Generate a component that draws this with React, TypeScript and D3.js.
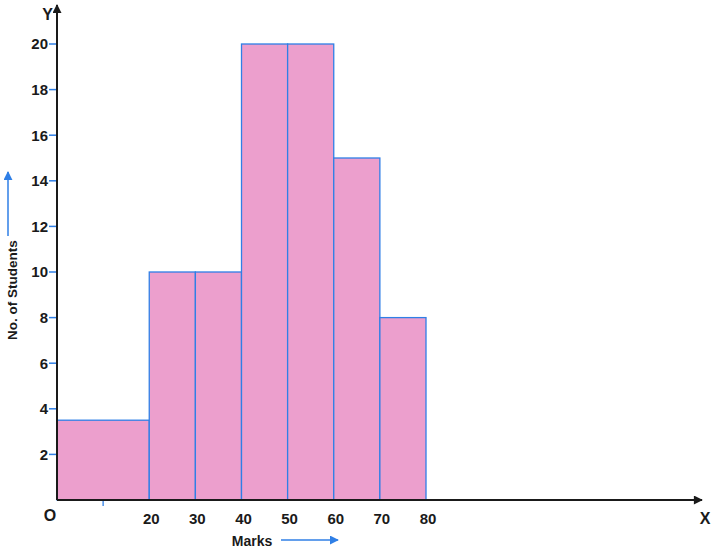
import * as d3 from "d3";

// class intervals (lower, upper) and frequencies
const binStarts = [0, 20, 30, 40, 50, 60, 70];
const binEnds = [20, 30, 40, 50, 60, 70, 80];
const frequencies = [3.5, 10, 10, 20, 20, 15, 8];
const xTickLabels = [20, 30, 40, 50, 60, 70, 80];
const xMinorTicks = [10];
const yTicks = [2, 4, 6, 8, 10, 12, 14, 16, 18, 20];

const W = 718;
const H = 552;
const FILL = "#ec9fcd";
const EDGE = "#2f7fe6";
const INK = "#1a1a1a";
const FONT = "'Liberation Sans', Arial, sans-serif";

export default function App() {
  const x = d3.scaleLinear().domain([0, 80]).range([57, 426]);
  const y = d3.scaleLinear().domain([0, 20]).range([500, 44]);
  const x0 = x(0);
  const y0 = y(0);

  return (
    <svg
      width={W}
      height={H}
      style={{ position: "absolute", left: 0, top: 0, background: "#fff" }}
      fontFamily={FONT}
    >
      <defs>
        <marker id="blk" viewBox="0 0 10 10" refX="9" refY="5" markerWidth="10" markerHeight="9" markerUnits="userSpaceOnUse" orient="auto">
          <path d="M0,0 L10,5 L0,10 Z" fill={INK} />
        </marker>
        <marker id="blu" viewBox="0 0 10 10" refX="9" refY="5" markerWidth="9" markerHeight="9" markerUnits="userSpaceOnUse" orient="auto">
          <path d="M0,0 L10,5 L0,10 Z" fill={EDGE} />
        </marker>
      </defs>

      {/* bars */}
      {frequencies.map((f, i) => (
        <rect
          key={i}
          x={x(binStarts[i])}
          y={y(f)}
          width={x(binEnds[i]) - x(binStarts[i])}
          height={y0 - y(f)}
          fill={FILL}
          stroke={EDGE}
          strokeWidth={1.3}
        />
      ))}

      {/* y ticks */}
      {yTicks.map((t) => (
        <g key={t}>
          <line x1={x0 - 8} x2={x0} y1={y(t)} y2={y(t)} stroke={EDGE} strokeWidth={1.5} />
          <text x={x0 - 9} y={y(t)} dy="0.36em" textAnchor="end" fontSize={15} fontWeight="bold" fill={INK}>
            {t}
          </text>
        </g>
      ))}

      {/* minor x tick */}
      {xMinorTicks.map((t) => (
        <line key={t} x1={x(t)} x2={x(t)} y1={y0} y2={y0 + 6} stroke={EDGE} strokeWidth={1.3} />
      ))}

      {/* x labels */}
      {xTickLabels.map((t) => (
        <text key={t} x={x(t) + 2} y={y0 + 24} textAnchor="middle" fontSize={15} fontWeight="bold" fill={INK}>
          {t}
        </text>
      ))}

      {/* axes */}
      <line x1={x0} x2={x0} y1={y0} y2={5} stroke={INK} strokeWidth={2} markerEnd="url(#blk)" />
      <line x1={x0} x2={702} y1={y0} y2={y0} stroke={INK} strokeWidth={2} markerEnd="url(#blk)" />

      <text x={x0 - 4} y={20} textAnchor="end" fontSize={16} fontWeight="bold" fill={INK}>Y</text>
      <text x={705} y={524} textAnchor="middle" fontSize={16} fontWeight="bold" fill={INK}>X</text>
      <text x={x0 - 7} y={521} textAnchor="middle" fontSize={16} fontWeight="bold" fill={INK}>O</text>

      {/* axis titles */}
      <text x={252} y={546} textAnchor="middle" fontSize={14} fontWeight="bold" fill={INK}>Marks</text>
      <line x1={281} x2={338} y1={540} y2={540} stroke={EDGE} strokeWidth={1.5} markerEnd="url(#blu)" />

      <text
        transform={`translate(17,290) rotate(-90)`}
        textAnchor="middle"
        fontSize={13.5}
        fontWeight="bold"
        fill={INK}
      >
        No. of Students
      </text>
      <line x1={8} x2={8} y1={236} y2={172} stroke={EDGE} strokeWidth={1.5} markerEnd="url(#blu)" />
    </svg>
  );
}
